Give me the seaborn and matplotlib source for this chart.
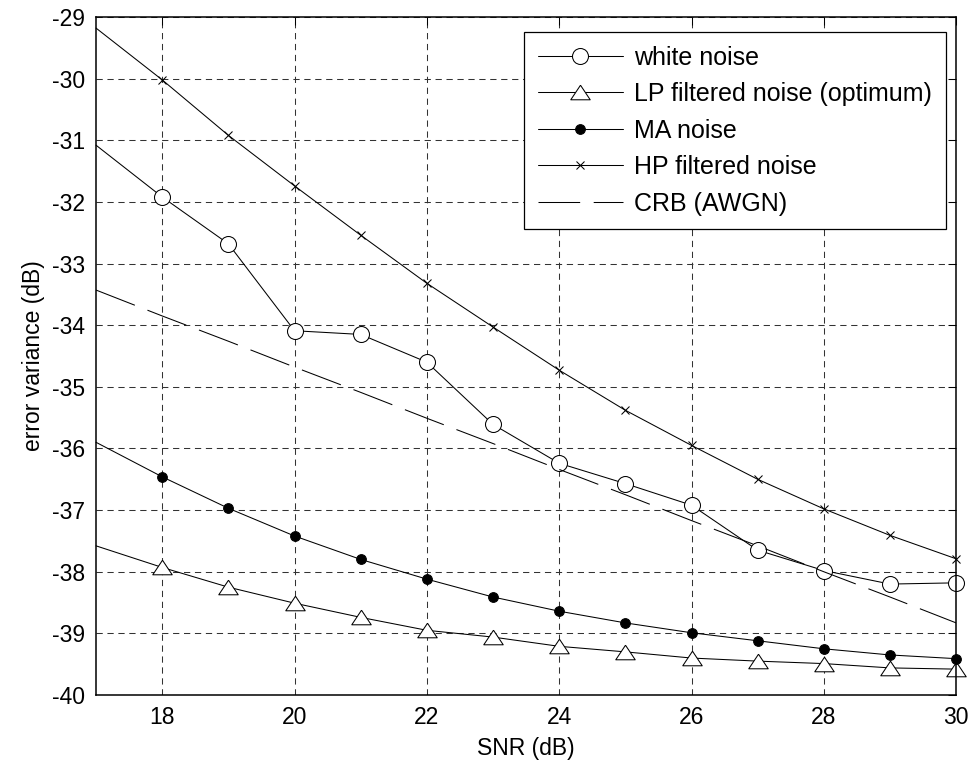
import matplotlib
matplotlib.use("Agg")
import matplotlib.pyplot as plt
import seaborn as sns
import numpy as np
import pandas as pd

# SNR axis (dB)
snr = [17, 18, 19, 20, 21, 22, 23, 24, 25, 26, 27, 28, 29, 30]

white_noise = [-31.08, -31.92, -32.68, -34.09, -34.15, -34.60, -35.61,
               -36.24, -36.57, -36.92, -37.65, -37.98, -38.20, -38.18]
lp_noise = [-37.58, -37.93, -38.25, -38.51, -38.74, -38.95, -39.06,
            -39.21, -39.30, -39.40, -39.45, -39.49, -39.56, -39.58]
ma_noise = [-35.90, -36.46, -36.97, -37.42, -37.80, -38.12, -38.41,
            -38.64, -38.83, -38.99, -39.12, -39.25, -39.35, -39.41]
hp_noise = [-29.18, -30.02, -30.92, -31.74, -32.54, -33.32, -34.03,
            -34.73, -35.38, -35.95, -36.50, -36.98, -37.41, -37.79]
crb_awgn = [-33.43, -33.85, -34.26, -34.68, -35.09, -35.51, -35.92,
            -36.34, -36.75, -37.17, -37.58, -38.00, -38.41, -38.83]

labels = ["white noise", "LP filtered noise (optimum)", "MA noise",
          "HP filtered noise", "CRB (AWGN)"]

sns.set_theme(style="white")
plt.rcParams["font.family"] = ["Liberation Sans", "DejaVu Sans"]
plt.rcParams["font.size"] = 16.5
plt.rcParams["axes.unicode_minus"] = False
plt.rcParams["text.color"] = "black"
plt.rcParams["axes.labelcolor"] = "black"

fig = plt.figure(figsize=(9.72, 7.69), dpi=100)
ax = fig.add_axes([0.0988, 0.0962, 0.9837 - 0.0988, 0.9779 - 0.0962])

tri = [(0, 0.75), (-1, -0.75), (1, -0.75), (0, 0.75)]
common = dict(color="black", lw=0.75, clip_on=False, markevery=slice(1, None))

sns.lineplot(x=snr, y=white_noise, ax=ax, marker="o", ms=11.5, mfc="white",
             mec="black", mew=0.75, label=labels[0], **common)
sns.lineplot(x=snr, y=lp_noise, ax=ax, marker=tri, ms=14, mfc="white",
             mec="black", mew=0.75, label=labels[1], **common)
sns.lineplot(x=snr, y=ma_noise, ax=ax, marker="o", ms=7, mfc="black",
             mec="black", mew=0.75, label=labels[2], **common)
sns.lineplot(x=snr, y=hp_noise, ax=ax, marker="x", ms=6, mec="black",
             mew=0.75, label=labels[3], **common)
sns.lineplot(x=snr, y=crb_awgn, ax=ax, color="black", lw=0.75,
             dashes=False, label=labels[4])
ax.lines[-1].set_dashes((40, 13))

ax.set_xlim(17, 30)
ax.set_ylim(-40, -29)
ax.set_xticks(range(18, 31, 2))
ax.set_yticks(range(-40, -28))
ax.set_xlabel("SNR (dB)", fontsize=16.5, labelpad=6, color="black")
ax.set_ylabel("error variance (dB)", fontsize=16.5, labelpad=5, color="black")

ax.grid(True, color="#333333", lw=0.75, linestyle=(0, (6, 4.5)))
ax.set_axisbelow(True)
for s in ax.spines.values():
    s.set_visible(True)
    s.set_color("black")
    s.set_linewidth(1.1)
ax.tick_params(direction="in", length=6, width=0.75, top=True, right=True,
               labelsize=16.5, colors="black", labelcolor="black", pad=8)

leg = ax.legend(loc="upper right", bbox_to_anchor=(0.988, 0.978),
                borderaxespad=0, fontsize=18,
                handlelength=3.4, handletextpad=0.45, labelspacing=0.5,
                borderpad=0.55, frameon=True, fancybox=False, framealpha=1,
                edgecolor="black", numpoints=1)
leg.get_frame().set_linewidth(0.9)
for t in leg.get_texts():
    t.set_color("black")

fig.savefig("out.png", dpi=100)
